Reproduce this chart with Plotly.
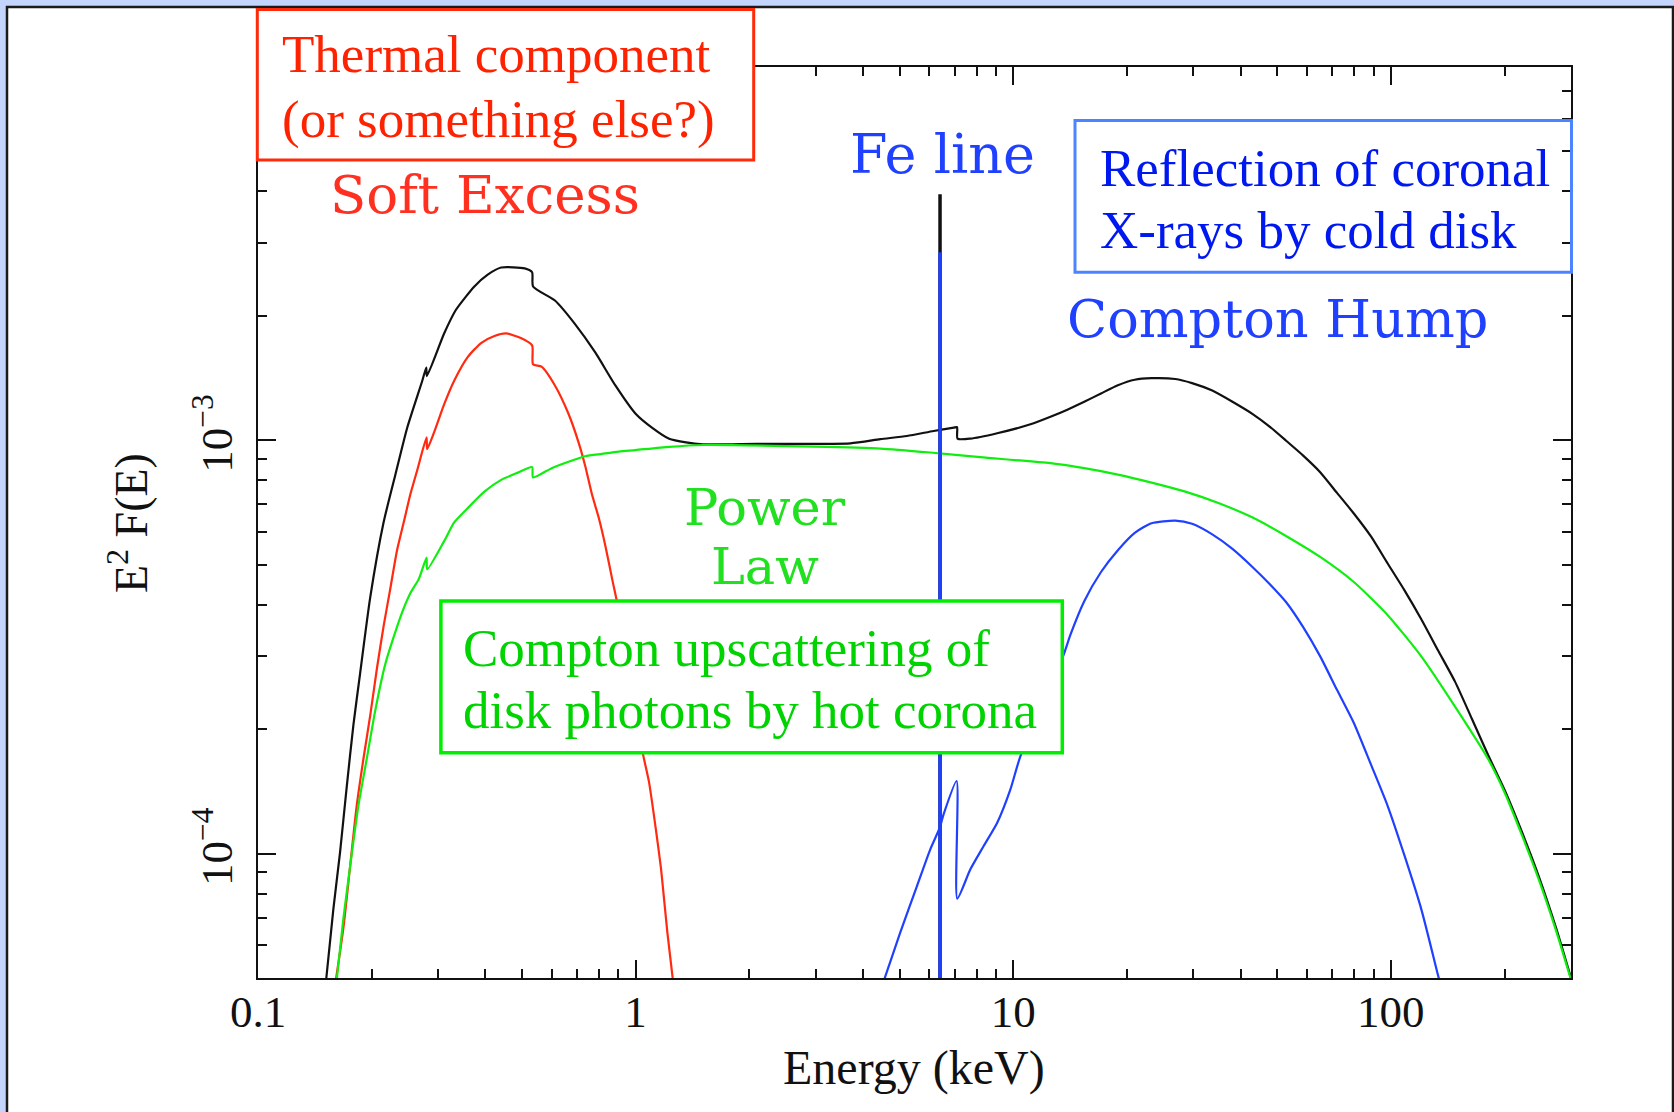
import math
import plotly.graph_objects as go

# ---------------------------------------------------------------------------
# Spectral model components: E^2 F(E) versus photon energy (keV)
# ---------------------------------------------------------------------------
total_energy = [0.151, 0.1583, 0.1649, 0.1718, 0.1789, 0.1864, 0.1982, 0.2151, 0.2310,
                0.2483, 0.2723, 0.2790, 0.2800, 0.3111, 0.3341, 0.3741, 0.4058, 0.4405,
                0.5085, 0.5320, 0.5350, 0.6114, 0.6912, 0.7818, 0.8839, 1.000, 1.107,
                1.227, 1.360, 1.506, 2.095, 3.702, 4.446, 5.23, 6.155, 6.957, 7.10,
                7.12, 7.70, 9.07, 11.11, 12.55, 13.91, 15.42, 17.08, 18.93, 20.98,
                23.25, 26.85, 29.76, 33.66, 38.07, 43.07, 47.75, 52.9, 58.6, 65.0,
                72.0, 79.8, 88.5, 98.0, 108.6, 120.4, 133.4, 147.8, 163.9, 181.6,
                201.2, 223.1, 247.1, 274.0, 300.0]
total_flux = [4.8e-5, 7.33e-5, 1.006e-4, 1.452e-4, 2.045e-4, 2.73e-4, 4.16e-4, 6.33e-4, 8.24e-4,
              1.071e-3, 1.393e-3, 1.50e-3, 1.43e-3, 1.813e-3, 2.066e-3, 2.356e-3, 2.516e-3, 2.618e-3,
              2.605e-3, 2.55e-3, 2.356e-3, 2.178e-3, 1.91e-3, 1.631e-3, 1.357e-3, 1.159e-3, 1.071e-3,
              1.008e-3, 9.88e-4, 9.78e-4, 9.80e-4, 9.83e-4, 1.006e-3, 1.024e-3, 1.053e-3, 1.073e-3, 1.076e-3,
              1.009e-3, 1.009e-3, 1.040e-3, 1.093e-3, 1.140e-3, 1.186e-3, 1.239e-3, 1.298e-3, 1.359e-3, 1.401e-3,
              1.413e-3, 1.407e-3, 1.375e-3, 1.319e-3, 1.239e-3, 1.157e-3, 1.079e-3, 9.96e-4, 9.18e-4, 8.37e-4,
              7.46e-4, 6.65e-4, 5.86e-4, 5.04e-4, 4.34e-4, 3.69e-4, 3.10e-4, 2.61e-4, 2.12e-4, 1.72e-4,
              1.41e-4, 1.12e-4, 8.75e-5, 6.6e-5, 5.0e-5]

thermal_energy = [0.160, 0.1683, 0.1753, 0.1826, 0.1903, 0.1982, 0.2065, 0.2151, 0.2241,
                  0.2334, 0.2432, 0.2533, 0.2639, 0.2795, 0.2805, 0.2924, 0.3111, 0.3308,
                  0.3591, 0.3896, 0.4229, 0.4545, 0.4983, 0.5320, 0.5350, 0.5634, 0.6114,
                  0.6641, 0.7058, 0.7352, 0.7659, 0.7984, 0.8317, 0.8666, 0.8933, 1.042,
                  1.085, 1.131, 1.166, 1.190, 1.214, 1.260]
thermal_flux = [4.8e-5, 6.60e-5, 9.29e-5, 1.308e-4, 1.701e-4, 2.156e-4, 2.804e-4, 3.55e-4, 4.38e-4,
                5.41e-4, 6.33e-4, 7.41e-4, 8.45e-4, 1.016e-3, 9.52e-4, 1.043e-3, 1.221e-3, 1.393e-3,
                1.589e-3, 1.719e-3, 1.788e-3, 1.813e-3, 1.765e-3, 1.697e-3, 1.527e-3, 1.507e-3, 1.357e-3,
                1.159e-3, 9.9e-4, 8.68e-4, 7.41e-4, 6.50e-4, 5.55e-4, 4.62e-4, 4.05e-4, 1.769e-4,
                1.491e-4, 1.147e-4, 9.29e-5, 7.73e-5, 6.43e-5, 4.8e-5]

powerlaw_energy = [0.161, 0.1683, 0.1753, 0.1845, 0.1942, 0.2043, 0.2174, 0.2384, 0.2533,
                   0.2667, 0.2795, 0.2805, 0.3111, 0.3308, 0.3591, 0.3977, 0.4405, 0.488,
                   0.532, 0.535, 0.5993, 0.6641, 0.7352, 0.8146, 0.9026, 1.0, 1.227, 1.506,
                   2.96, 4.446, 6.03, 8.18, 12.55, 15.42, 18.93, 23.25, 28.56, 35.08, 43.07,
                   52.9, 65.0, 79.8, 98.0, 120.4, 147.8, 181.6, 201.2, 223.1, 247.1, 274.0, 300.0]
powerlaw_flux = [4.8e-5, 6.96e-5, 9.29e-5, 1.308e-4, 1.701e-4, 2.213e-4, 2.877e-4, 3.74e-4, 4.27e-4,
                 4.62e-4, 5.20e-4, 4.87e-4, 5.70e-4, 6.33e-4, 6.85e-4, 7.51e-4, 8.02e-4, 8.35e-4,
                 8.61e-4, 8.13e-4, 8.56e-4, 8.87e-4, 9.15e-4, 9.27e-4, 9.39e-4, 9.47e-4, 9.64e-4, 9.74e-4,
                 9.65e-4, 9.55e-4, 9.34e-4, 9.10e-4, 8.80e-4, 8.56e-4, 8.26e-4, 7.90e-4, 7.51e-4, 7.04e-4, 6.50e-4,
                 5.86e-4, 5.22e-4, 4.54e-4, 3.78e-4, 3.00e-4, 2.27e-4, 1.684e-4, 1.39e-4, 1.10e-4, 8.6e-5, 6.5e-5, 4.95e-5]

reflection_energy = [4.50, 5.02, 5.56, 6.03, 6.39, 6.54, 7.08, 7.11, 7.70, 8.35, 9.07, 9.83,
                     10.45, 13.55, 14.20, 15.42, 17.08, 18.93, 20.98, 23.25, 26.85, 29.76,
                     33.66, 38.07, 43.07, 47.75, 52.9, 58.6, 65.0, 72.0, 79.8, 88.5, 98.0,
                     108.6, 120.4, 133.4, 135.5]
reflection_flux = [4.8e-5, 6.44e-5, 8.34e-5, 1.024e-4, 1.155e-4, 1.244e-4, 1.498e-4, 7.78e-5, 9.16e-5,
                   1.043e-4, 1.188e-4, 1.430e-4, 1.722e-4, 3.00e-4, 3.40e-4, 4.08e-4, 4.80e-4, 5.42e-4,
                   5.97e-4, 6.30e-4, 6.39e-4, 6.28e-4, 5.92e-4, 5.46e-4, 4.93e-4, 4.49e-4, 4.05e-4,
                   3.53e-4, 3.00e-4, 2.49e-4, 2.07e-4, 1.646e-4, 1.307e-4, 9.91e-5, 7.34e-5, 5.07e-5, 4.8e-5]

# Narrow Fe K-alpha line
fe_line_energy = 6.4
fe_line_base = 4.5e-5
fe_line_total_peak = 3.94e-3
fe_line_reflection_peak = 2.85e-3

# Axes
x_range_kev = [0.1, 300.0]
y_range_flux = [5e-5, 8e-3]
x_tick_values = [0.1, 1, 10, 100]
x_tick_labels = ["0.1", "1", "10", "100"]
y_tick_values = [1e-4, 1e-3]
y_tick_labels = ["10<sup>\u22124</sup>", "10<sup>\u22123</sup>"]
x_minor_ticks = [m * 10.0 ** k for k in (-1, 0, 1, 2) for m in range(2, 10) if m * 10.0 ** k < 300]
y_minor_ticks = [m * 10.0 ** k for k in (-5, -4, -3) for m in range(2, 10) if 5e-5 < m * 10.0 ** k < 8e-3]

# ---------------------------------------------------------------------------
# Page geometry (pixels)
# ---------------------------------------------------------------------------
W, H = 1674, 1112
L, R, T, B = 258, 1571, 67, 978


def paper(xp, yp):
    """Convert a pixel position on the page to paper coordinates."""
    return (xp - L) / (R - L), (B - yp) / (B - T)


BLACK = "#111111"
RED_LINE = "#FF2A10"
GREEN_LINE = "#10EE10"
BLUE_LINE = "#2040FF"
SMOOTH = dict(shape="spline", smoothing=0.6)

fig = go.Figure()

fig.add_trace(go.Scatter(x=total_energy, y=total_flux, mode="lines",
                         line=dict(color=BLACK, width=2.2, **SMOOTH)))
fig.add_trace(go.Scatter(x=[fe_line_energy, fe_line_energy],
                         y=[fe_line_base, fe_line_total_peak], mode="lines",
                         line=dict(color=BLACK, width=3.5)))
fig.add_trace(go.Scatter(x=thermal_energy, y=thermal_flux, mode="lines",
                         line=dict(color=RED_LINE, width=2.2, **SMOOTH)))
fig.add_trace(go.Scatter(x=powerlaw_energy, y=powerlaw_flux, mode="lines",
                         line=dict(color=GREEN_LINE, width=2.2, **SMOOTH)))
fig.add_trace(go.Scatter(x=reflection_energy, y=reflection_flux, mode="lines",
                         line=dict(color=BLUE_LINE, width=2.2, **SMOOTH)))
fig.add_trace(go.Scatter(x=[fe_line_energy, fe_line_energy],
                         y=[fe_line_base, fe_line_reflection_peak], mode="lines",
                         line=dict(color=BLUE_LINE, width=3.5)))


def rect(x0, y0, x1, y1, color, width, fill, layer="above"):
    px0, py1 = paper(x0, y0)
    px1, py0 = paper(x1, y1)
    return dict(type="rect", xref="paper", yref="paper", x0=px0, x1=px1, y0=py0, y1=py1,
                line=dict(color=color, width=width), fillcolor=fill, layer=layer)


shapes = [
    rect(7, 7, 1673, 1116, "#1a1a1a", 2.5, "white", layer="below"),
    rect(257.3, 9.6, 753.7, 160.1, "#FF2A0A", 3, "white"),
    rect(1075, 120.6, 1571.5, 272.2, "#4C84FF", 3, "rgba(0,0,0,0)"),
    rect(440.9, 601, 1062.3, 752.7, "#00EE00", 3.5, "white"),
]


def label(text, xp, yp, size, color, family, xanchor="center", angle=0):
    px, py = paper(xp, yp)
    return dict(text=text, x=px, y=py, xref="paper", yref="paper", showarrow=False,
                xanchor=xanchor, yanchor="middle", textangle=angle,
                font=dict(family=family, size=size, color=color))


SERIF = "Liberation Serif"
PLOT_FONT = "DejaVu Serif"
annotations = [
    label("Thermal component", 279.7, 54, 53, "#FF2200", SERIF, "left"),
    label("(or something else?)", 279.7, 119, 53, "#FF2200", SERIF, "left"),
    label("Soft Excess", 484.7, 194.3, 53, "#FF3020", PLOT_FONT),
    label("Fe line", 942.2, 154.8, 54, "#2040FF", PLOT_FONT),
    label("Reflection of coronal", 1098, 167.6, 53, "#0018F0", SERIF, "left"),
    label("X-rays by cold disk", 1098, 229.5, 53, "#0018F0", SERIF, "left"),
    label("Compton Hump", 1277.9, 318.1, 52.5, "#2040FF", PLOT_FONT),
    label("Power", 765, 507.5, 51, "#20E020", PLOT_FONT),
    label("Law", 765, 566, 51, "#20E020", PLOT_FONT),
    label("Compton upscattering of", 461, 648, 53, "#00D400", SERIF, "left"),
    label("disk photons by hot corona", 461, 710, 53, "#00D400", SERIF, "left"),
    label("Energy (keV)", 913.9, 1067.6, 48, BLACK, SERIF),
    label("E<sup>2</sup> F(E)", 128, 523.1, 46, BLACK, SERIF, angle=-90),
]

axis_common = dict(
    type="log", showgrid=False, zeroline=False,
    showline=True, linewidth=2, linecolor=BLACK, mirror="ticks",
    ticks="inside", ticklen=18, tickwidth=2, tickcolor=BLACK,
    tickfont=dict(family=SERIF, size=45, color=BLACK),
    tickmode="array",
)

fig.update_layout(
    width=W, height=H,
    margin=dict(l=L, r=W - R, t=T, b=H - B, pad=0),
    paper_bgcolor="#C4D5FD",
    plot_bgcolor="white",
    showlegend=False,
    shapes=shapes,
    annotations=annotations,
    xaxis=dict(axis_common,
               range=[math.log10(x_range_kev[0]), math.log10(x_range_kev[1])],
               tickvals=x_tick_values, ticktext=x_tick_labels,
               ticklabelstandoff=-7,
               minor=dict(tickmode="array", tickvals=x_minor_ticks, ticks="inside",
                          ticklen=9, tickwidth=2, tickcolor=BLACK, showgrid=False)),
    yaxis=dict(axis_common,
               range=[math.log10(y_range_flux[0]), math.log10(y_range_flux[1])],
               tickvals=y_tick_values, ticktext=y_tick_labels, tickangle=-90,
               ticklabelstandoff=6,
               minor=dict(tickmode="array", tickvals=y_minor_ticks, ticks="inside",
                          ticklen=9, tickwidth=2, tickcolor=BLACK, showgrid=False)),
)

fig.write_html("out.html")
